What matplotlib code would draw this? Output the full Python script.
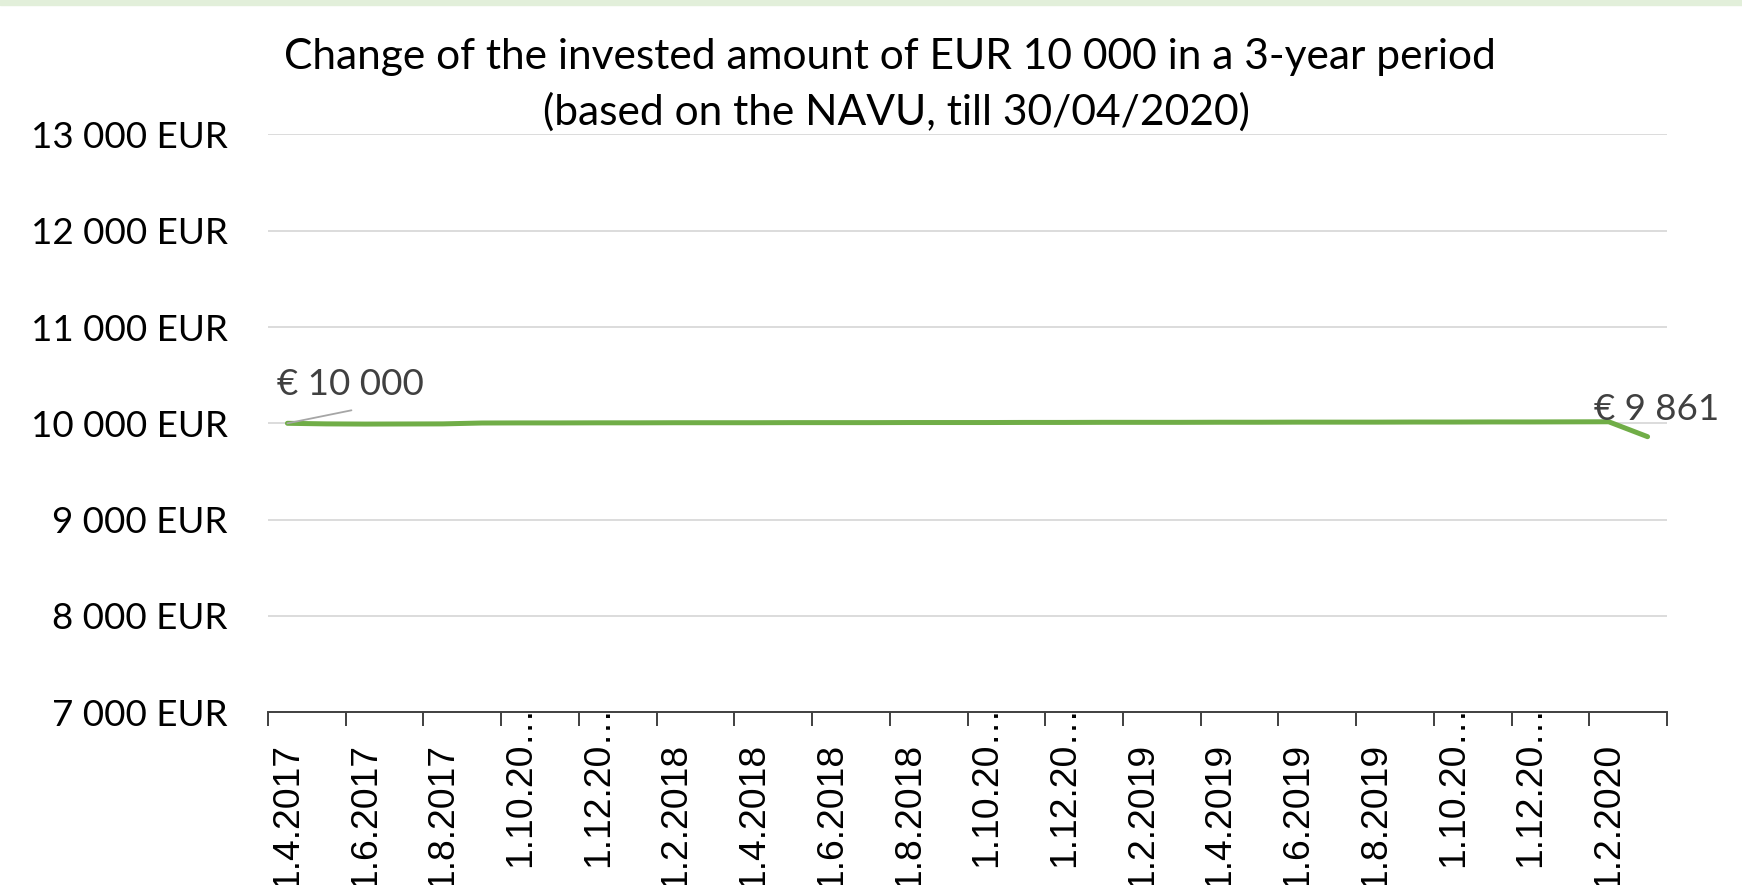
"""Line chart: change of an invested EUR 10 000 over three years."""

import matplotlib

matplotlib.use("Agg")
import matplotlib.pyplot as plt
from matplotlib.patches import Rectangle
from matplotlib.transforms import ScaledTranslation


# monthly NAVU-based value of the investment, 1.4.2017 .. 1.3.2020
values = [
    10000, 9994, 9992, 9993, 9994, 10003, 10004, 10004, 10005, 10005,
    10006, 10006, 10006, 10007, 10007, 10007, 10008, 10008, 10008, 10009,
    10009, 10010, 10010, 10010, 10011, 10011, 10012, 10012, 10012, 10013,
    10013, 10014, 10014, 10015, 10016, 9861,
]

# every other month is labelled (Excel cut the long ones)
tick_labels = [
    "1.4.2017", "1.6.2017", "1.8.2017", "1.10.20…", "1.12.20…",
    "1.2.2018", "1.4.2018", "1.6.2018", "1.8.2018", "1.10.20…",
    "1.12.20…", "1.2.2019", "1.4.2019", "1.6.2019", "1.8.2019",
    "1.10.20…", "1.12.20…", "1.2.2020",
]

y_ticks = [7000, 8000, 9000, 10000, 11000, 12000, 13000]
y_labels = [
    "7 000 EUR", "8 000 EUR", "9 000 EUR", "10 000 EUR",
    "11 000 EUR", "12 000 EUR", "13 000 EUR",
]

start_label = "€ 10 000"
end_label = "€ 9 861"

title_line1 = "Change of the invested amount of EUR 10 000 in a 3-year period"
title_line2 = "(based on the NAVU, till 30/04/2020)"

GREEN = "#70AD47"
GRID = "#D9D9D9"
AXIS = "#404040"
LABEL_GREY = "#404040"

fig = plt.figure(figsize=(17.42, 8.85), dpi=100)
fig.patches.append(
    Rectangle((0, 1 - 5 / 885), 1, 5 / 885, transform=fig.transFigure,
              color="#E2EFDA", zorder=0)
)

ax = fig.add_axes([268 / 1742, 1 - 712.2 / 885, 1399 / 1742, 577.8 / 885])

x = list(range(len(values)))
ax.plot(x, values, color=GREEN, linewidth=3.6, solid_capstyle="round",
        solid_joinstyle="round", zorder=3)

ax.set_xlim(-0.5, len(values) - 0.5)
ax.set_ylim(y_ticks[0], y_ticks[-1])

# y axis: gridlines + EUR labels
ax.set_yticks(y_ticks)
ax.set_yticklabels(y_labels, family="Lato", fontsize=26.5, color="black")
ax.tick_params(axis="y", length=0, pad=29)
ax.grid(axis="y", color=GRID, linewidth=1.3, zorder=0)

# x axis: ticks on category boundaries, labels on every other category
ax.set_xticks([i - 0.5 for i in range(0, len(values) + 1, 2)])
ax.set_xticklabels([])
ax.tick_params(axis="x", length=10, width=1.4, color=AXIS, direction="out")

for spine in ("left", "top", "right"):
    ax.spines[spine].set_visible(False)
ax.spines["bottom"].set_color(AXIS)
ax.spines["bottom"].set_linewidth(1.4)

for k, label in enumerate(tick_labels):
    if label.endswith("…"):
        off = ScaledTranslation(0, -154.8 / 100, fig.dpi_scale_trans)
        va = "bottom"
    else:
        off = ScaledTranslation(0, -30.8 / 100, fig.dpi_scale_trans)
        va = "top"
    ax.text(2 * k, 0, label, transform=ax.get_xaxis_transform() + off,
            rotation=90, ha="center", va=va, family="Liberation Sans",
            fontsize=26.8, color="black", clip_on=False)

# data labels at both ends of the series
ax.annotate(start_label, xy=(x[0], values[0]), xytext=(-10, 28),
            textcoords="offset pixels", ha="left", va="baseline",
            family="Lato", fontsize=26.5, color=LABEL_GREY)
ax.annotate("", xy=(x[0], values[0]), xytext=(64, 13),
            textcoords="offset pixels",
            arrowprops=dict(arrowstyle="-", color="#A6A6A6", lw=1.3,
                            shrinkA=0, shrinkB=0))
ax.annotate(end_label, xy=(x[-1], values[-1]), xytext=(-54, 17),
            textcoords="offset pixels", ha="left", va="baseline",
            family="Lato", fontsize=26.5, color=LABEL_GREY,
            annotation_clip=False)

fig.text(890 / 1742, 1 - 69 / 885, title_line1, ha="center", va="baseline",
         family="Lato", fontsize=30.6, color="black")
fig.text(896 / 1742, 1 - 125 / 885, title_line2, ha="center", va="baseline",
         family="Lato", fontsize=30.6, color="black")

fig.savefig("out.png", dpi=100)
plt.close(fig)
